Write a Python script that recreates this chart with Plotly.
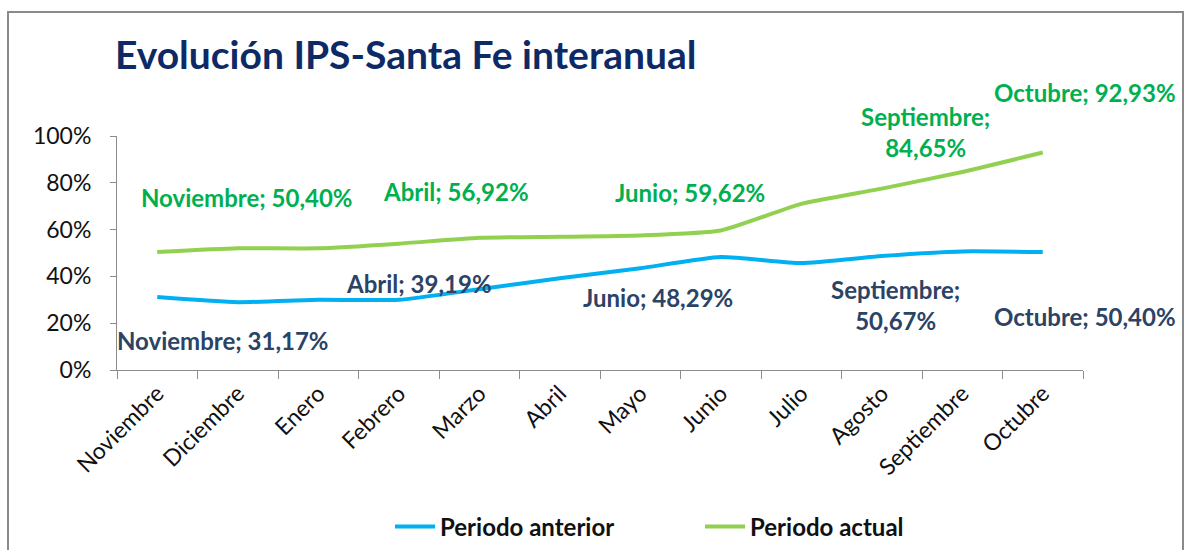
import plotly.graph_objects as go

meses = ["Noviembre", "Diciembre", "Enero", "Febrero", "Marzo", "Abril",
         "Mayo", "Junio", "Julio", "Agosto", "Septiembre", "Octubre"]
periodo_anterior = [0.3117, 0.29, 0.30, 0.30, 0.345, 0.3919,
                    0.435, 0.4829, 0.457, 0.487, 0.5067, 0.5040]
periodo_actual = [0.5040, 0.52, 0.52, 0.54, 0.565, 0.5692,
                  0.575, 0.5962, 0.71, 0.775, 0.8465, 0.9293]

titulo = "Evolución IPS-Santa Fe interanual"

# labelled points: (index, text, xshift, yshift)
etiquetas_actual = [
    (0, "Noviembre; 50,40%", 90, 55),
    (5, "Abril; 56,92%", -104, 45),
    (7, "Junio; 59,62%", -31, 38),
    (10, "Septiembre;<br>84,65%", -37, 40),
    (11, "Octubre; 92,93%", 42, 60),
]
etiquetas_anterior = [
    (0, "Noviembre; 31,17%", 66, -43),
    (5, "Abril; 39,19%", -141, -5),
    (7, "Junio; 48,29%", -63, -40),
    (10, "Septiembre;<br>50,67%", -67, -54),
    (11, "Octubre; 50,40%", 42, -64),
]

FONT = "Lato"
C_BLUE = "#00B0F0"
C_GREEN = "#92D050"
C_GREEN_TXT = "#00B050"
C_BLUE_TXT = "#2B4365"

fig = go.Figure()
fig.add_trace(go.Scatter(x=meses, y=periodo_anterior, mode="lines",
                         name="<b>Periodo anterior</b>",
                         line=dict(color=C_BLUE, width=4, shape="spline", smoothing=0.5)))
fig.add_trace(go.Scatter(x=meses, y=periodo_actual, mode="lines",
                         name="<b>Periodo actual</b>",
                         line=dict(color=C_GREEN, width=4, shape="spline", smoothing=0.5)))

annotations = []
for i, t, dx, dy in etiquetas_actual:
    annotations.append(dict(x=meses[i], y=periodo_actual[i], xref="x", yref="y",
                            text=f"<b>{t}</b>", showarrow=False, xshift=dx, yshift=dy,
                            font=dict(family=FONT, size=24, color=C_GREEN_TXT)))
for i, t, dx, dy in etiquetas_anterior:
    annotations.append(dict(x=meses[i], y=periodo_anterior[i], xref="x", yref="y",
                            text=f"<b>{t}</b>", showarrow=False, xshift=dx, yshift=dy,
                            font=dict(family=FONT, size=24, color=C_BLUE_TXT)))

annotations.append(dict(x=(113 - 117) / 966, y=(370 - 54) / 234, xref="paper", yref="paper",
                        text=f"<b>{titulo}</b>", showarrow=False,
                        xanchor="left", yanchor="middle",
                        font=dict(family=FONT, size=39, color="#0D2A66")))

fig.update_layout(
    width=1188, height=550,
    margin=dict(l=117, r=105, t=136, b=180, autoexpand=False),
    paper_bgcolor="white", plot_bgcolor="white",
    font=dict(family=FONT, size=22, color="#222222"),
    showlegend=True,
    legend=dict(orientation="h", x=(390 - 117) / 966, xanchor="left",
                y=(370 - 527) / 234, yanchor="middle",
                font=dict(family=FONT, size=24, color="#111111"),
                entrywidth=255, itemwidth=40),
    annotations=annotations,
    xaxis=dict(type="category", range=[-0.5, 11.5], tickangle=-45,
               showline=True, linecolor="#8C8C8C", linewidth=1,
               ticks="outside", tickson="boundaries", ticklen=8, tickcolor="#8C8C8C",
               showgrid=False, zeroline=False, automargin=False,
               tickfont=dict(family=FONT, size=23, color="#111111")),
    yaxis=dict(range=[0, 1], dtick=0.2, tickformat=".0%",
               showline=True, linecolor="#8C8C8C", linewidth=1,
               ticks="outside", ticklen=6, tickcolor="#8C8C8C",
               showgrid=False, zeroline=False, ticklabelstandoff=14, automargin=False,
               tickfont=dict(family=FONT, size=23, color="#111111")),
    shapes=[dict(type="rect", xref="paper", yref="paper",
                 x0=(8 - 117) / 966, x1=(1183 - 117) / 966,
                 y0=(370 - 620) / 234, y1=(370 - 12) / 234,
                 line=dict(color="#8A8A8A", width=2), fillcolor="rgba(0,0,0,0)",
                 layer="below")],
)

fig.write_html("out.html")
